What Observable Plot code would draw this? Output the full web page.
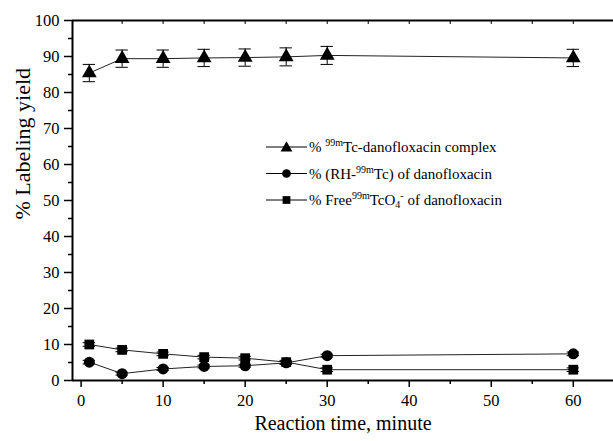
<!DOCTYPE html>
<html>
<head>
<meta charset="utf-8">
<script src="https://cdn.jsdelivr.net/npm/d3@7"></script>
<script src="https://cdn.jsdelivr.net/npm/@observablehq/plot@0.6"></script>
</head>
<body style="margin:0;background:#fff">
<div id="chart"></div>
<script>
const times = [1, 5, 10, 15, 20, 25, 30, 60];
const complexYield = [85.4, 89.4, 89.4, 89.6, 89.7, 89.9, 90.3, 89.6];
const complexErr   = [2.4, 2.4, 2.4, 2.4, 2.4, 2.5, 2.5, 2.4];
const rhYield      = [5.1, 1.9, 3.2, 3.9, 4.1, 4.9, 6.9, 7.4];
const rhErr        = [0.5, 0.4, 0.4, 0.4, 0.4, 0.4, 0.4, 0.5];
const freeYield    = [10.0, 8.5, 7.4, 6.5, 6.2, 5.1, 3.0, 3.0];
const freeErr      = [0.5, 0.5, 0.5, 0.5, 0.5, 0.5, 0.5, 0.5];
const seriesNames  = ["complex", "rh", "free"];
const symbols      = ["triangle", "circle", "square"];
const xTicks = [0, 10, 20, 30, 40, 50, 60];
const yTicks = [0, 10, 20, 30, 40, 50, 60, 70, 80, 90, 100];

const rows = [];
[[complexYield, complexErr], [rhYield, rhErr], [freeYield, freeErr]].forEach(([vals, errs], si) => {
  times.forEach((t, i) => rows.push({series: seriesNames[si], symbol: symbols[si], t, y: vals[i], e: errs[i]}));
});

const cap = 0.75;
const xMin = -1.05, xMax = 64.9;

const chart = Plot.plot({
  width: 613,
  height: 441,
  marginLeft: 72,
  marginRight: 0,
  marginTop: 20,
  marginBottom: 61,
  style: {fontFamily: "Liberation Serif", fontSize: "16px"},
  x: {domain: [xMin, xMax]},
  y: {domain: [0, 100]},
  symbol: {domain: symbols, range: ["triangle", "circle", "square"]},
  marks: [
    Plot.axisX({ticks: xTicks, tickSize: 7, tickPadding: 7, fontSize: 16.5, label: null, strokeWidth: 1.5}),
    Plot.axisX({ticks: d3.range(5, 65, 10), tickSize: 4, text: null, label: null, strokeWidth: 1.5}),
    Plot.axisX({anchor: "top", ticks: d3.range(5, 65, 5), tickSize: -3, text: null, label: null, strokeWidth: 1}),
    Plot.axisY({ticks: yTicks, tickSize: 8, tickPadding: 5, fontSize: 16.5, label: null, strokeWidth: 1.5}),
    Plot.axisY({ticks: d3.range(5, 100, 10), tickSize: 4, text: null, label: null, strokeWidth: 1.5}),
    Plot.ruleX([xMin], {stroke: "#000", strokeWidth: 2}),
    Plot.ruleY([0], {stroke: "#000", strokeWidth: 2}),
    Plot.ruleY([100], {stroke: "#000", strokeWidth: 2}),
    Plot.line(rows, {x: "t", y: "y", z: "series", stroke: "#222", strokeWidth: 1}),
    Plot.ruleX(rows, {x: "t", y1: d => d.y - d.e, y2: d => d.y + d.e, stroke: "#000", strokeWidth: 1}),
    Plot.ruleY(rows, {y: d => d.y - d.e, x1: d => d.t - cap, x2: d => d.t + cap, stroke: "#000", strokeWidth: 1}),
    Plot.ruleY(rows, {y: d => d.y + d.e, x1: d => d.t - cap, x2: d => d.t + cap, stroke: "#000", strokeWidth: 1}),
    Plot.dot(rows, {x: "t", y: "y", symbol: "symbol", r: 5.5, fill: "#000", stroke: "none"}),
    Plot.text(["Reaction time, minute"], {frameAnchor: "bottom", dy: 49, fontSize: 20, fill: "#000"}),
    Plot.text(["% Labeling yield"], {frameAnchor: "left", dx: -50, dy: 19, rotate: -90, fontSize: 22, fill: "#000"})
  ]
});

document.getElementById("chart").appendChild(chart);

// Legend
const svg = d3.select(chart);
const legendItems = [
  {sym: d3.symbolTriangle, dy: 1, parts: [["% ", 0], ["99m", 1], ["Tc-danofloxacin complex", 0]]},
  {sym: d3.symbolCircle, dy: 0, parts: [["% (RH-", 0], ["99m", 1], ["Tc) of danofloxacin", 0]]},
  {sym: d3.symbolSquare, dy: 0, parts: [["% Free", 0], ["99m", 1], ["TcO", 0], ["4", -1], ["-", 1], [" of danofloxacin", 0]]}
];
const lx0 = 266, lx1 = 307, ly0 = 147, dyRow = 26.5;
const g = svg.append("g").attr("fill", "#000").attr("text-anchor", "start");
legendItems.forEach((it, i) => {
  const y = ly0 + i * dyRow;
  g.append("line").attr("x1", lx0).attr("x2", lx1).attr("y1", y).attr("y2", y).attr("stroke", "#000").attr("stroke-width", 1);
  g.append("path").attr("d", d3.symbol(it.sym, 60)()).attr("transform", `translate(${(lx0 + lx1) / 2},${y + it.dy})`);
  const t = g.append("text").attr("x", lx1 + 2).attr("y", y + 5).attr("font-size", 15);
  it.parts.forEach(([s, k]) => {
    const ts = t.append("tspan").text(s);
    if (k === 1) ts.attr("font-size", 10).attr("baseline-shift", "6");
    else if (k === -1) ts.attr("font-size", 10).attr("baseline-shift", "-3");
  });
});
</script>
</body>
</html>
